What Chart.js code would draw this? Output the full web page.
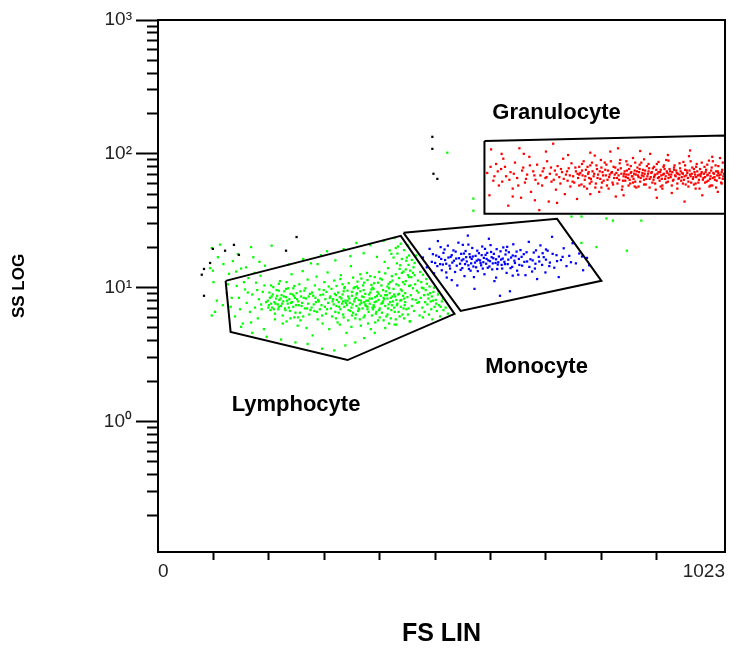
<!DOCTYPE html>
<html>
<head>
<meta charset="utf-8">
<title>FS LIN / SS LOG</title>
<script src="https://cdn.jsdelivr.net/npm/chart.js@4.4.1/dist/chart.umd.min.js"></script>
<style>
  html, body { margin: 0; padding: 0; background: #ffffff; }
  #wrap { width: 729px; height: 650px; }
</style>
</head>
<body>
<div id="wrap"><canvas id="scatter" width="729" height="650"></canvas></div>
<script>
// ==========================================
// DADOS (FS linear 0-1023, SS logarítmico)
// ==========================================

const populations = ['Lymphocyte', 'Monocyte', 'Granulocyte'];

const xTicks = [0, 100, 200, 300, 400, 500, 600, 700, 800, 900, 1023];
const yTicks = [0.2, 0.3, 0.4, 0.5, 0.6, 0.7, 0.8, 0.9, 1,
                2, 3, 4, 5, 6, 7, 8, 9, 10,
                20, 30, 40, 50, 60, 70, 80, 90, 100,
                200, 300, 400, 500, 600, 700, 800, 900, 1000];

// gates (vértices, em FS / SS)
const lymphGate = [[122, 11.25], [438, 24.4], [535, 6.37], [342, 2.88], [131, 4.67], [122, 11.25]];
const monoGate = [[443, 25.7], [720, 32.7], [800, 11.25], [546, 6.71], [443, 25.7]];
const granGate = [[589, 125], [1023, 137], [1023, 35.7], [589, 35.7], [589, 125]];

// eventos fora dos gates (pretos)
const ungated = [
  [99, 19.5], [121, 18.9], [137, 20.9], [146, 17.6], [94, 15.3], [83, 13.8], [79, 12.5],
  [83, 8.7], [250, 23.9], [231, 18.9], [495, 134], [495, 109], [497, 71], [504, 65]
];

const lymphocytes = [
  // fora do gate
  [97, 19.8], [108, 16.9], [99, 13.4], [94, 14.0], [106, 8.0], [103, 6.6], [97, 6.2], [100, 11.0],
  [112, 21.0], [205, 20.6], [522, 102], [569, 46.3], [569, 37.6], [746, 34], [764, 34], [809, 32.9],
  [821, 31.7], [872, 31.7], [764, 21.6], [791, 20.1], [846, 18.9], [117, 7.4], [118, 15.0],
  // lado esquerdo
  [124, 9.1], [128, 12.7], [131, 7.2], [135, 15.8], [139, 6.1], [142, 10.3], [146, 8.4], [150, 13.9],
  [153, 5.4], [157, 9.7], [160, 7.7], [163, 11.8], [166, 6.6], [170, 8.9], [172, 16.9], [175, 7.1],
  [177, 10.9], [180, 5.9], [182, 8.2], [185, 12.3], [187, 6.9], [189, 9.3], [191, 4.9], [193, 14.6],
  [195, 7.8], [126, 10.6], [133, 8.4], [141, 13.2], [148, 6.9], [155, 11.0], [162, 9.2], [168, 5.5],
  [174, 12.9], [179, 9.6], [186, 7.5], [192, 10.4], [183, 15.6], [144, 17.8], [159, 14.2], [168, 20.1],
  // grupo secundário
  [198, 8.0], [200, 7.4], [201, 9.2], [203, 6.8], [205, 8.6], [206, 7.1], [208, 10.1], [210, 7.8],
  [211, 6.4], [213, 8.3], [214, 9.6], [216, 7.5], [217, 6.9], [219, 8.1], [220, 11.2], [222, 7.3],
  [223, 8.8], [225, 6.2], [226, 7.9], [228, 9.4], [229, 7.0], [231, 8.5], [232, 5.6], [234, 7.6],
  [235, 9.9], [237, 8.2], [238, 6.7], [240, 7.7], [241, 12.6], [243, 8.9], [244, 7.2], [246, 6.0],
  [247, 8.4], [249, 7.4], [250, 9.1], [252, 5.2], [253, 7.9], [255, 10.6], [256, 6.5], [258, 8.6],
  [259, 7.3], [261, 13.3], [262, 6.1], [264, 9.5], [265, 7.0],
  [199, 7.1], [202, 8.4], [204, 7.6], [207, 8.9], [209, 6.9], [212, 7.6], [215, 8.7], [218, 7.2],
  [221, 8.3], [224, 7.6], [227, 8.6], [230, 6.8], [233, 8.0], [236, 7.1], [239, 9.0], [242, 7.8],
  [245, 8.7], [248, 6.5], [251, 8.2], [254, 7.4], [257, 9.4], [260, 7.7], [263, 8.4], [266, 9.9],
  [204, 10.4], [211, 5.8], [218, 10.7], [225, 5.4], [232, 11.0], [239, 5.9], [246, 10.3], [253, 6.0],
  [218, 9.5], [231, 9.8], [244, 9.9], [257, 5.7],
  // meio
  [267, 8.3], [268, 5.0], [270, 11.5], [271, 7.6], [273, 6.3], [274, 9.0], [276, 15.2], [277, 7.1],
  [279, 4.4], [280, 8.7], [282, 6.7], [283, 10.4], [285, 7.8], [286, 12.1], [288, 5.8], [289, 8.1],
  [291, 9.7], [292, 6.9], [294, 17.5], [295, 7.4], [297, 5.4], [298, 8.9], [300, 11.0], [301, 7.2],
  [303, 6.4], [304, 9.3], [306, 13.0], [307, 7.7], [309, 4.9], [310, 8.4],
  [269, 7.0], [272, 8.6], [275, 6.8], [278, 9.2], [281, 7.5], [284, 8.4], [287, 6.6], [290, 7.9],
  [293, 8.8], [296, 6.2], [299, 9.6], [302, 8.2], [305, 6.9], [308, 10.2],
  // núcleo principal
  [312, 7.0], [313, 9.8], [314, 6.1], [316, 8.2], [317, 7.5], [318, 11.3], [320, 6.6], [321, 8.8],
  [322, 7.3], [324, 5.5], [325, 9.2], [326, 7.8], [328, 8.5], [329, 6.9], [330, 12.4], [332, 7.6],
  [333, 8.9], [334, 6.3], [336, 7.2], [337, 10.1], [338, 8.0], [340, 4.6], [341, 7.4], [342, 9.5],
  [344, 6.8], [345, 8.3], [346, 7.7], [348, 14.5], [349, 7.1], [350, 8.7], [352, 6.5], [353, 9.9],
  [354, 7.9], [356, 5.9], [357, 8.4], [358, 7.3], [360, 11.1], [361, 6.7], [362, 8.1], [364, 7.5],
  [365, 9.4], [366, 5.2], [368, 8.6], [369, 7.0], [370, 10.4], [372, 7.8], [373, 6.2], [374, 9.0],
  [376, 8.0], [377, 12.9], [378, 7.2], [380, 6.6], [381, 8.9], [382, 7.6], [384, 4.9], [385, 9.7],
  [386, 8.3], [388, 6.9], [389, 7.4], [390, 10.8], [392, 8.5], [393, 6.4], [394, 7.9], [396, 9.3],
  [397, 5.7], [398, 8.1], [400, 7.0], [401, 11.7], [402, 8.7], [404, 6.5], [405, 7.7], [406, 9.6],
  [408, 8.2], [409, 15.6], [410, 7.3], [412, 6.1], [413, 8.8], [414, 10.2], [416, 7.5], [417, 5.4],
  [418, 9.1], [420, 8.4], [421, 6.8], [422, 12.2], [424, 7.9], [425, 9.8], [426, 7.1], [428, 8.6],
  [429, 5.8], [430, 10.6], [432, 7.6], [433, 8.9], [434, 6.6], [436, 13.8], [437, 8.0], [438, 7.2],
  [440, 9.5], [441, 6.3], [442, 11.0], [444, 8.3], [445, 7.4], [446, 9.1], [448, 6.9], [449, 16.8],
  [450, 8.5], [452, 7.0], [453, 10.3], [454, 5.6],
  [311, 8.6], [315, 7.9], [319, 9.0], [323, 8.1], [327, 7.2], [331, 8.3], [335, 9.4], [339, 7.7],
  [343, 8.6], [347, 6.7], [351, 7.5], [355, 8.2], [359, 9.1], [363, 6.9], [367, 7.7], [371, 8.5],
  [375, 7.3], [379, 8.0], [383, 9.2], [387, 7.1], [391, 7.8], [395, 8.7], [399, 6.8], [403, 7.6],
  [407, 8.4], [411, 9.4], [415, 7.0], [419, 7.8], [423, 8.6], [427, 6.6], [431, 7.4], [435, 9.0],
  [439, 8.1], [443, 7.0], [326, 6.5], [334, 7.9], [342, 8.0], [350, 9.3], [358, 8.9], [366, 8.0],
  [374, 7.5], [382, 8.3], [390, 7.2], [398, 9.0], [406, 7.9], [414, 8.3], [422, 7.4], [430, 8.1],
  [438, 9.7], [446, 7.8], [350, 6.2], [362, 7.0], [378, 6.9], [394, 6.6], [410, 8.8], [426, 8.9],
  [442, 8.7], [355, 10.1], [371, 9.6], [387, 10.0], [403, 10.4], [419, 11.0], [435, 11.8], [451, 12.4],
  [367, 11.7], [383, 12.2], [399, 13.1], [415, 14.0], [431, 15.2], [447, 13.7],
  [322, 10.3], [329, 11.6], [336, 9.9], [344, 10.8], [352, 11.9], [359, 10.2], [365, 12.6], [372, 10.9],
  [378, 11.4], [385, 10.5], [391, 12.0], [397, 10.9], [404, 11.5], [410, 12.8], [416, 10.7], [423, 11.3],
  [429, 12.6], [434, 10.4], [440, 12.9], [447, 11.2], [453, 12.0], [333, 10.6], [361, 9.9], [389, 9.8],
  [417, 9.9], [445, 10.6],
  [321, 5.9], [328, 5.3], [335, 6.0], [343, 5.7], [349, 5.1], [357, 6.3], [364, 5.8], [371, 6.0],
  [379, 5.4], [386, 6.2], [392, 5.5], [400, 6.0], [407, 5.7], [414, 6.3], [420, 5.9], [427, 5.3],
  [436, 6.1], [444, 5.9], [451, 6.3],
  // lado direito
  [456, 8.8], [457, 12.0], [458, 7.3], [460, 9.9], [461, 14.2], [462, 6.7], [464, 10.6], [465, 8.1],
  [466, 17.4], [468, 7.7], [469, 11.3], [470, 9.2], [472, 6.2], [473, 13.1], [474, 8.4], [476, 10.0],
  [477, 7.1], [478, 12.5], [480, 8.8], [481, 6.6], [483, 9.6], [484, 11.6], [486, 7.5], [487, 8.9],
  [489, 6.3], [490, 10.2], [492, 7.9], [494, 8.6], [495, 5.8], [497, 9.3], [499, 7.2], [501, 8.1],
  [503, 6.7], [505, 8.9], [507, 7.4], [509, 6.1], [512, 7.9], [515, 6.8], [519, 7.1], [523, 6.4],
  [455, 10.4], [459, 8.2], [463, 12.4], [467, 9.5], [471, 7.8], [475, 11.0], [479, 9.9], [482, 7.8],
  [485, 10.7], [488, 8.3], [491, 9.1], [493, 6.9], [496, 8.0], [498, 10.0], [502, 7.6], [506, 9.4],
  [510, 7.2], [514, 8.3], [452, 14.8], [458, 16.1], [463, 15.3], [444, 19.1], [450, 20.8],
  [425, 16.8], [432, 18.0], [437, 14.7], [440, 16.4], [443, 13.2], [448, 15.9], [453, 17.4], [455, 13.4],
  [460, 12.9], [438, 21.3], [429, 19.8], [421, 17.9],
  // bordas de cima e de baixo
  [236, 14.9], [262, 16.4], [288, 15.0], [305, 18.7], [320, 16.0], [335, 19.4], [347, 17.2], [358, 21.6],
  [371, 18.1], [383, 20.8], [395, 17.0], [407, 22.4], [418, 19.0], [427, 23.5], [433, 20.3],
  [150, 5.1], [170, 4.6], [196, 4.3], [222, 4.1], [248, 3.9], [270, 3.8], [296, 3.5], [318, 3.4],
  [338, 3.7], [356, 3.9], [372, 4.2], [391, 4.6], [410, 5.0], [430, 5.3], [455, 5.6], [478, 6.0]
];

const monocytes = [
  [478, 16.8], [485, 14.2], [490, 19.5], [494, 15.6], [498, 12.8], [502, 17.4], [505, 22.3], [509, 15.0],
  [512, 13.5], [515, 18.2], [518, 16.1], [521, 11.9], [523, 20.6], [526, 14.6], [528, 17.0], [531, 15.4],
  [533, 19.0], [536, 13.1], [538, 16.5], [540, 10.4], [542, 21.7], [545, 15.1], [547, 17.9], [549, 14.0],
  [551, 16.3], [553, 12.2], [555, 18.8], [557, 15.7], [559, 24.5], [561, 13.8], [563, 16.9], [565, 15.2],
  [567, 19.8], [569, 14.4], [571, 9.8], [573, 17.3], [575, 15.9], [577, 13.3], [579, 18.1], [581, 16.0],
  [583, 14.7], [585, 20.3], [587, 15.5], [589, 12.6], [591, 17.6], [593, 16.4], [595, 14.1], [597, 23.2],
  [599, 15.8], [601, 18.5], [603, 13.7], [605, 16.6], [607, 11.2], [609, 15.3], [611, 19.4], [613, 14.9],
  [615, 17.1], [617, 8.7], [619, 16.2], [621, 13.9], [623, 20.0], [625, 15.6], [627, 17.7], [629, 12.9],
  [631, 15.0], [633, 18.4], [635, 9.4], [637, 16.8], [639, 14.3], [641, 21.1], [643, 15.9], [645, 17.2],
  [648, 13.4], [651, 16.4], [654, 19.1], [657, 14.6], [660, 17.8], [663, 12.4], [666, 15.7], [669, 22.0],
  [672, 16.3], [675, 13.2], [678, 18.3], [681, 15.1], [684, 11.6], [687, 17.0], [690, 20.7], [693, 14.8],
  [696, 16.9], [699, 13.0], [703, 18.9], [707, 15.4], [711, 24.0], [715, 14.1], [719, 17.5], [723, 12.0],
  [727, 16.1], [732, 19.7], [737, 14.5], [742, 17.3], [748, 21.5], [754, 15.2], [760, 18.0], [767, 13.5],
  [774, 16.7],
  [496, 17.8], [500, 15.3], [504, 14.5], [507, 17.0], [511, 16.4], [514, 14.9], [517, 19.3], [520, 15.1],
  [524, 16.8], [527, 13.9], [530, 17.5], [534, 15.9], [537, 18.6], [539, 14.6], [543, 16.6], [546, 13.6],
  [548, 16.0], [552, 18.0], [554, 15.0], [556, 16.9], [560, 14.7], [562, 17.8], [564, 13.4], [566, 16.4],
  [568, 17.1], [572, 15.4], [574, 14.2], [576, 18.9], [578, 16.2], [582, 15.3], [584, 17.5], [586, 13.9],
  [588, 16.7], [592, 15.1], [594, 18.2], [596, 16.0], [598, 14.4], [602, 16.9], [604, 15.2], [606, 17.9],
  [610, 16.3], [612, 13.8], [614, 15.5], [618, 18.7], [620, 14.8], [622, 16.5], [626, 15.0], [628, 19.0],
  [632, 16.2], [636, 14.0], [640, 17.4], [644, 15.3], [647, 18.6], [652, 14.8], [656, 17.0], [661, 15.6],
  [665, 18.4], [670, 14.3], [676, 16.0], [682, 19.0], [688, 15.7], [694, 18.1], [700, 16.2], [706, 14.5],
  [712, 17.9], [720, 15.8], [730, 17.0], [745, 15.5], [765, 17.1], [778, 14.7],
  [510, 20.1], [530, 11.4], [550, 20.9], [570, 12.0], [590, 19.5], [610, 11.9], [630, 20.2], [650, 12.5],
  [680, 13.9], [520, 13.0], [560, 21.0], [600, 20.8], [640, 12.3], [700, 19.3]
];

const granulocytes = [
  [594, 72], [601, 108], [605, 63], [610, 84], [598, 49], [615, 58], [619, 77], [623, 92],
  [628, 68], [632, 41], [636, 73], [640, 55], [644, 86], [648, 66], [652, 110], [655, 47],
  [659, 79], [662, 61], [666, 70], [670, 95], [673, 52], [677, 74], [681, 64], [684, 83],
  [688, 38], [690, 69],
  [600, 80], [607, 68], [613, 74], [621, 62], [626, 80], [634, 64], [642, 71], [650, 58],
  [657, 75], [664, 65], [671, 82], [679, 69], [686, 60], [620, 100], [660, 100], [640, 48], [680, 45],
  [693, 58], [696, 78], [699, 66], [702, 88], [705, 44], [707, 71], [710, 62], [713, 119],
  [716, 75], [718, 54], [721, 81], [724, 67], [726, 60], [729, 73], [731, 92], [734, 50],
  [736, 70], [739, 63], [741, 78], [744, 57], [746, 85], [749, 68], [751, 61], [754, 74],
  [756, 46], [758, 66], [760, 80],
  [694, 74], [701, 67], [709, 79], [714, 64], [719, 70], [727, 77], [732, 65], [738, 74],
  [743, 69], [748, 62], [753, 79], [757, 71], [700, 104], [740, 98], [720, 43],
  [762, 72], [764, 59], [766, 69], [768, 88], [770, 64], [772, 76], [774, 55], [776, 71],
  [778, 66], [780, 82], [782, 62], [784, 74], [786, 68], [788, 97], [790, 60], [792, 77],
  [794, 70], [796, 52], [798, 65], [800, 79], [802, 73], [804, 63], [806, 86], [808, 69],
  [810, 58], [812, 75], [814, 67], [816, 104], [818, 72], [820, 61], [822, 80], [824, 70],
  [826, 48], [828, 66], [830, 76], [832, 64], [834, 90], [836, 71], [838, 57], [840, 68],
  [760, 70], [765, 75], [771, 68], [777, 73], [781, 65], [787, 71], [793, 66], [797, 74],
  [803, 69], [807, 76], [811, 64], [815, 70], [819, 73], [823, 66], [827, 72], [831, 69],
  [835, 78], [839, 63], [780, 102], [830, 110], [780, 50], [840, 49], [760, 58], [800, 56],
  [842, 74], [843, 63], [845, 70], [847, 83], [848, 66], [850, 77], [852, 60], [853, 72],
  [855, 68], [857, 93], [858, 65], [860, 75], [862, 70], [863, 56], [865, 79], [867, 67],
  [868, 73], [870, 62], [872, 86], [873, 69], [875, 76], [877, 64], [878, 71], [880, 59],
  [882, 81], [883, 68], [885, 74], [887, 65], [888, 100], [890, 72], [892, 61], [893, 78],
  [895, 67], [897, 70], [898, 54], [900, 84], [902, 66], [903, 73], [905, 63], [907, 76],
  [908, 69], [910, 58], [912, 80], [913, 71], [915, 65], [917, 90], [918, 74], [920, 62],
  [922, 70], [923, 77], [925, 67], [927, 51], [928, 73], [930, 64], [932, 82], [933, 69],
  [935, 75], [937, 60], [938, 71], [940, 66],
  [841, 71], [844, 67], [846, 75], [849, 70], [851, 64], [854, 73], [856, 68], [859, 71],
  [861, 62], [864, 74], [866, 69], [869, 77], [871, 66], [874, 72], [876, 68], [879, 75],
  [881, 65], [884, 71], [886, 78], [889, 67], [891, 73], [894, 64], [896, 69], [899, 76],
  [901, 71], [904, 67], [906, 73], [909, 65], [911, 70], [914, 77], [916, 68], [919, 72],
  [921, 66], [924, 74], [926, 70], [929, 63], [931, 76], [934, 68], [936, 72], [939, 65],
  [870, 105], [920, 98], [860, 57], [900, 47], [910, 55],
  [942, 78], [944, 63], [946, 72], [948, 87], [950, 68], [952, 59], [954, 75], [956, 66],
  [958, 96], [960, 70], [962, 61], [964, 79], [966, 67], [968, 73], [970, 55], [972, 84],
  [974, 69], [976, 64], [978, 77], [980, 71], [982, 49], [984, 66], [986, 80], [988, 73],
  [990, 62], [992, 70], [994, 89], [996, 65], [998, 75], [1000, 58], [1002, 72], [1004, 67],
  [1006, 82], [1008, 63], [1010, 74], [1012, 69], [1014, 93], [1016, 61], [1018, 76], [1020, 68],
  [941, 70], [943, 74], [945, 67], [947, 71], [949, 64], [951, 76], [953, 69], [955, 72],
  [957, 62], [959, 75], [961, 68], [963, 71], [965, 65], [967, 77], [969, 70], [971, 67],
  [973, 74], [975, 61], [977, 70], [979, 68], [981, 73], [983, 64], [985, 71], [987, 67],
  [989, 76], [991, 69], [993, 63], [995, 72], [997, 68], [999, 79], [1001, 66], [1003, 71],
  [1005, 64], [1007, 74], [1009, 69], [1011, 72], [1013, 66], [1015, 70], [1017, 73], [1019, 65],
  [1021, 71], [960, 106], [1000, 95], [950, 44], [1010, 52], [970, 60], [995, 57],
  [765, 84], [775, 80], [783, 86], [791, 82], [799, 90], [809, 83], [817, 88], [825, 79],
  [833, 85], [845, 88], [853, 81], [861, 86], [869, 83], [877, 91], [885, 84], [895, 80],
  [903, 87], [913, 82], [921, 89], [931, 79], [941, 85], [951, 82], [961, 88], [971, 80],
  [981, 86], [991, 83], [1001, 88], [1011, 81], [1019, 86],
  [769, 57], [779, 60], [789, 56], [801, 61], [813, 55], [821, 59], [829, 60], [837, 54],
  [849, 58], [857, 61], [867, 57], [877, 59], [887, 56], [897, 60], [907, 57], [917, 61],
  [927, 58], [937, 55], [947, 60], [957, 57], [967, 59], [977, 55], [987, 61], [997, 58],
  [1007, 56], [1017, 60]
];

// posição dos rótulos dos gates (FS, SS)
const gateLabelAnchors = [[249, 1.33], [683, 2.56], [719, 203]];

// ==========================================
// CONFIGURAÇÃO DO GRÁFICO
// ==========================================

const toPoints = pairs => pairs.map(([x, y]) => ({ x: x, y: y }));
const isDecade = v => Math.abs(Math.log10(v) - Math.round(Math.log10(v))) < 1e-9;
const supDigits = { '-1': '⁻¹', '0': '⁰', '1': '¹', '2': '²', '3': '³' };

const gateStyle = {
  showLine: true, fill: false, borderColor: '#000000', borderWidth: 2,
  pointRadius: 0, tension: 0
};
const dotStyle = color => ({
  backgroundColor: color, borderWidth: 0, pointStyle: 'rect', pointRadius: 1.6
});

// moldura e rótulos das populações
const frameAndLabels = {
  id: 'frameAndLabels',
  afterDatasetsDraw(chart) {
    const { ctx, chartArea, scales } = chart;
    ctx.save();
    ctx.strokeStyle = '#000000';
    ctx.lineWidth = 2;
    ctx.strokeRect(chartArea.left, chartArea.top, chartArea.right - chartArea.left, chartArea.bottom - chartArea.top);
    ctx.fillStyle = '#000000';
    ctx.font = 'bold 22px "Liberation Sans", Arial, sans-serif';
    ctx.textAlign = 'center';
    ctx.textBaseline = 'middle';
    populations.forEach((name, i) => {
      const [fx, fy] = gateLabelAnchors[i];
      ctx.fillText(name, scales.x.getPixelForValue(fx), scales.y.getPixelForValue(fy));
    });
    ctx.restore();
  }
};

new Chart(document.getElementById('scatter'), {
  type: 'scatter',
  data: {
    datasets: [
      Object.assign({ label: 'Lymphocyte gate', data: toPoints(lymphGate) }, gateStyle),
      Object.assign({ label: 'Monocyte gate', data: toPoints(monoGate) }, gateStyle),
      Object.assign({ label: 'Granulocyte gate', data: toPoints(granGate) }, gateStyle),
      Object.assign({ label: 'Ungated', data: toPoints(ungated) }, dotStyle('#000000')),
      Object.assign({ label: populations[0], data: toPoints(lymphocytes) }, dotStyle('#00ff00')),
      Object.assign({ label: populations[1], data: toPoints(monocytes) }, dotStyle('#0000ff')),
      Object.assign({ label: populations[2], data: toPoints(granulocytes) }, dotStyle('#ff0000'))
    ]
  },
  options: {
    responsive: false,
    animation: false,
    events: [],
    layout: { padding: { top: 20, right: 3, left: 0, bottom: 0 } },
    plugins: {
      legend: { display: false },
      tooltip: { enabled: false }
    },
    scales: {
      x: {
        type: 'linear',
        min: 0,
        max: 1023,
        afterBuildTicks: axis => { axis.ticks = xTicks.map(v => ({ value: v })); },
        afterFit: axis => { axis.height = 98; },
        border: { display: false },
        grid: {
          drawOnChartArea: false,
          tickLength: 8,
          tickWidth: 2,
          tickColor: ctx => (ctx.tick && (ctx.tick.value === 0 || ctx.tick.value === 1023)) ? 'rgba(0,0,0,0)' : '#000000'
        },
        ticks: {
          autoSkip: false,
          maxRotation: 0,
          align: 'inner',
          padding: 0,
          color: '#222222',
          font: { size: 19, family: '"Liberation Sans", Arial, sans-serif' },
          callback: v => (v === 0 || v === 1023) ? String(v) : ''
        },
        title: {
          display: true,
          text: 'FS LIN',
          color: '#000000',
          font: { size: 25, weight: 'bold', family: '"Liberation Sans", Arial, sans-serif' },
          padding: { top: 0, bottom: 1 }
        }
      },
      y: {
        type: 'logarithmic',
        min: 0.106,
        max: 1000,
        afterBuildTicks: axis => { axis.ticks = yTicks.map(v => ({ value: v })); },
        afterFit: axis => { axis.width = 158; },
        border: { display: false },
        grid: {
          drawOnChartArea: false,
          tickLength: 22,
          tickWidth: 2,
          tickColor: '#000000',
          tickBorderDash: ctx => (ctx.tick && isDecade(ctx.tick.value)) ? [] : [11, 11],
          tickBorderDashOffset: ctx => (ctx.tick && isDecade(ctx.tick.value)) ? 0 : 11
        },
        ticks: {
          autoSkip: false,
          padding: 4,
          color: '#222222',
          font: { size: 19, family: '"Liberation Sans", Arial, sans-serif' },
          callback: v => isDecade(v) ? '10' + supDigits[String(Math.round(Math.log10(v)))] : ''
        },
        title: {
          display: true,
          text: 'SS LOG',
          color: '#000000',
          font: { size: 17, weight: 'bold', family: '"Liberation Sans", Arial, sans-serif' },
          padding: { top: 9, bottom: 0 }
        }
      }
    }
  },
  plugins: [frameAndLabels]
});
</script>
</body>
</html>
